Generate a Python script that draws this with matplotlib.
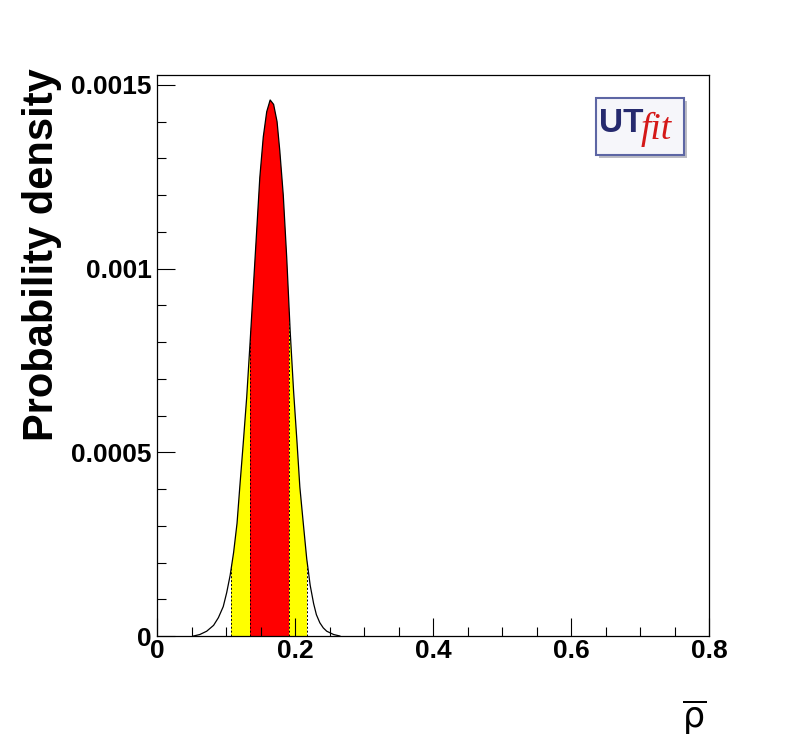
import numpy as np
import matplotlib
matplotlib.use("Agg")
import matplotlib.pyplot as plt
from matplotlib.patches import Polygon, Rectangle
from matplotlib.ticker import MultipleLocator, FuncFormatter

# posterior density of rho-bar
rho_x = [0.053, 0.062, 0.072, 0.082, 0.089, 0.096, 0.101, 0.106, 0.111, 0.116,
         0.120, 0.125, 0.130, 0.135, 0.140, 0.145, 0.149, 0.154, 0.159, 0.164,
         0.169, 0.174, 0.178, 0.183, 0.188, 0.193, 0.198, 0.203, 0.207, 0.212,
         0.217, 0.222, 0.227, 0.231, 0.236, 0.241, 0.246, 0.256, 0.265]
density = [0.0, 0.000004, 0.000013, 0.000029, 0.000050, 0.000080, 0.000118,
           0.000165, 0.000227, 0.000307, 0.000406, 0.000525, 0.000650, 0.000802,
           0.000961, 0.00112, 0.001248, 0.001358, 0.001427, 0.001459, 0.001447,
           0.001400, 0.001320, 0.001200, 0.001030, 0.000830, 0.000665, 0.000525,
           0.000406, 0.000307, 0.000210, 0.000138, 0.000088, 0.000058, 0.000036,
           0.000022, 0.000013, 0.000004, 0.0]

# 68% and 95% probability intervals
interval_68 = (0.135, 0.191)
interval_95 = (0.107, 0.218)

x_range = (0.0, 0.8)
y_range = (0.0, 0.001527)

W, H = 788, 749
fig = plt.figure(figsize=(W / 100, H / 100), dpi=100)
ax = fig.add_axes([157 / W, 1 - 636 / H, 552 / W, 561 / H])

# area under the curve, used as a clip for the bands
verts = np.column_stack([rho_x, density])
under = Polygon(verts, closed=True, fill=False, lw=0)
ax.add_patch(under)

band95 = ax.axvspan(*interval_95, color="#ffff00", lw=0)
band95.set_clip_path(under)
band68 = ax.axvspan(*interval_68, color="#ff0000", lw=0)
band68.set_clip_path(under)

edges = ax.vlines([interval_95[0], interval_68[0], interval_68[1], interval_95[1]],
                  0, y_range[1], colors="black", lw=0.7, linestyles=(0, (2, 2)))
edges.set_clip_path(under)

ax.plot(rho_x, density, color="black", lw=0.9)

ax.set_xlim(*x_range)
ax.set_ylim(*y_range)

ax.xaxis.set_major_locator(MultipleLocator(0.2))
ax.xaxis.set_minor_locator(MultipleLocator(0.05))
ax.yaxis.set_major_locator(MultipleLocator(0.0005))
ax.yaxis.set_minor_locator(MultipleLocator(0.0001))
fmt = FuncFormatter(lambda v, p: "%g" % round(v, 6))
ax.xaxis.set_major_formatter(fmt)
ax.yaxis.set_major_formatter(fmt)

ax.tick_params(which="both", direction="in", top=False, right=False, width=0.8)
ax.tick_params(which="major", length=13)
ax.tick_params(which="minor", length=6.5)
ax.tick_params(axis="x", pad=2)
ax.tick_params(axis="y", pad=4)
for lab in ax.get_xticklabels():
    lab.set_fontfamily("Liberation Sans")
    lab.set_fontweight("bold")
    lab.set_fontsize(19)
for lab in ax.get_yticklabels():
    lab.set_fontfamily("Liberation Sans")
    lab.set_fontweight("bold")
    lab.set_fontsize(19)
for s in ax.spines.values():
    s.set_linewidth(0.9)

fig.text(42 / W, 1 - 255 / H, "Probability density", rotation=90,
         ha="center", va="center", fontsize=30, fontweight="bold",
         family="Liberation Sans")
fig.text(706 / W, 1 - 717 / H, r"$\overline{\mathrm{\rho}}$", ha="right",
         va="center", fontsize=25)

# UTfit logo
fig.patches.append(Rectangle((599 / W, 1 - 158 / H), 88 / W, 57 / H,
                             transform=fig.transFigure, facecolor="#bcbcc4",
                             edgecolor="none"))
fig.patches.append(Rectangle((596 / W, 1 - 155 / H), 88 / W, 57 / H,
                             transform=fig.transFigure, facecolor="#f6f6fa",
                             edgecolor="#5d66a4", lw=1.5))
fig.text(599 / W, 1 - 132 / H, "UT", ha="left", va="baseline", fontsize=24,
         fontweight="bold", color="#262a6e", family="Liberation Sans")
fig.text(641 / W, 1 - 139 / H, "fit", ha="left", va="baseline", fontsize=27,
         style="italic", color="#d41818", family="Liberation Serif")

fig.savefig("out.png", dpi=100)
